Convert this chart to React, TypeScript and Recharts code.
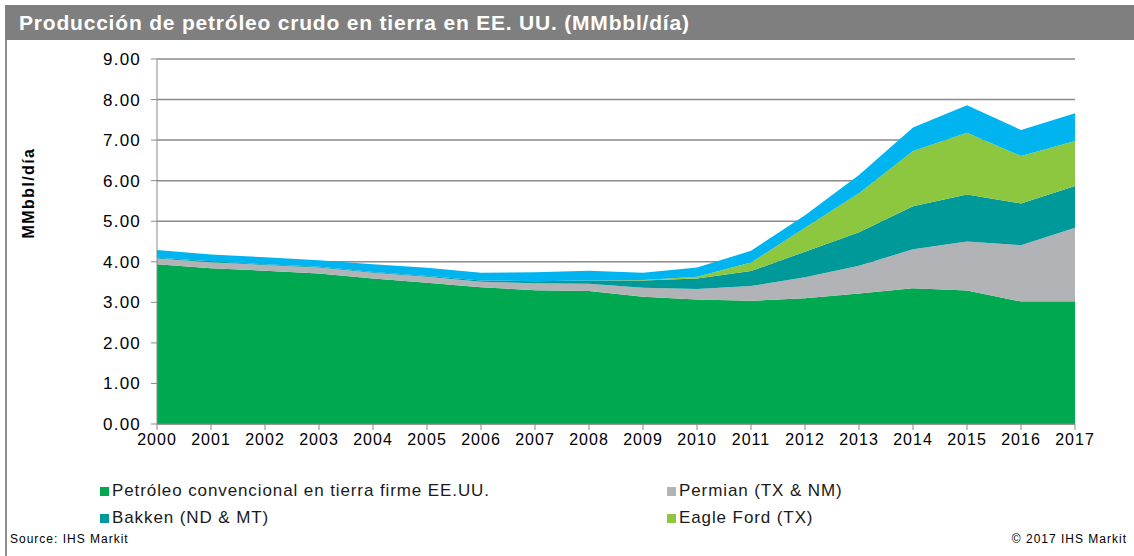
import { Area, AreaChart, CartesianGrid, XAxis, YAxis } from "recharts";

const YEARS = [
  2000, 2001, 2002, 2003, 2004, 2005, 2006, 2007, 2008, 2009, 2010, 2011, 2012,
  2013, 2014, 2015, 2016, 2017,
];
const CONVENTIONAL = [
  3.94, 3.84, 3.78, 3.71, 3.59, 3.48, 3.37, 3.3, 3.28, 3.14, 3.07, 3.04, 3.1,
  3.22, 3.35, 3.29, 3.02, 3.02,
];
const PERMIAN = [
  0.14, 0.15, 0.14, 0.15, 0.14, 0.15, 0.14, 0.17, 0.18, 0.22, 0.26, 0.36, 0.52,
  0.68, 0.96, 1.21, 1.39, 1.82,
];
const BAKKEN = [
  0.02, 0.02, 0.02, 0.02, 0.02, 0.02, 0.03, 0.05, 0.08, 0.18, 0.26, 0.37, 0.63,
  0.83, 1.06, 1.16, 1.03, 1.03,
];
const EAGLE_FORD = [
  0, 0, 0, 0, 0, 0, 0, 0, 0, 0.01, 0.04, 0.21, 0.59, 0.96, 1.36, 1.52, 1.17,
  1.11,
];
const OTHER = [
  0.19, 0.17, 0.17, 0.16, 0.19, 0.2, 0.19, 0.22, 0.24, 0.18, 0.23, 0.29, 0.31,
  0.45, 0.58, 0.68, 0.64, 0.68,
];
const Y_TICKS = [0, 1, 2, 3, 4, 5, 6, 7, 8, 9];

const SERIES = [
  { key: "conv", name: "Petróleo convencional en tierra firme EE.UU.", color: "#00a84f", values: CONVENTIONAL },
  { key: "permian", name: "Permian (TX & NM)", color: "#b1b3b6", values: PERMIAN },
  { key: "bakken", name: "Bakken (ND & MT)", color: "#009999", values: BAKKEN },
  { key: "eagle", name: "Eagle Ford (TX)", color: "#8dc63f", values: EAGLE_FORD },
  { key: "other", name: "Otros", color: "#00b5ef", values: OTHER },
];

const data = YEARS.map((year, i) => {
  const row: Record<string, number> = { year };
  SERIES.forEach((s) => {
    row[s.key] = s.values[i];
  });
  return row;
});

const FONT = '"Liberation Sans", Arial, sans-serif';
const AXIS = "#8a8a8a";

function LegendItem({ color, label, x, y }: { color: string; label: string; x: number; y: number }) {
  return (
    <div style={{ position: "absolute", left: x, top: y, display: "flex", alignItems: "center", whiteSpace: "nowrap" }}>
      <span style={{ width: 9, height: 9, background: color, marginRight: 3 }} />
      <span style={{ fontSize: 17, letterSpacing: 0.9, color: "#1a1a1a" }}>{label}</span>
    </div>
  );
}

export default function App() {
  return (
    <div
      style={{
        position: "absolute",
        left: 0,
        top: 0,
        width: 1134,
        height: 556,
        background: "#fff",
        fontFamily: FONT,
        overflow: "hidden",
      }}
    >
      <div style={{ position: "absolute", left: 5, top: 5, width: 2, height: 551, background: "#8f8f8f" }} />
      <div
        style={{
          position: "absolute",
          left: 5,
          top: 5,
          width: 1129,
          height: 35,
          background: "#7f7f7f",
          color: "#fff",
          fontWeight: "bold",
          fontSize: 21,
          letterSpacing: 0.8,
          lineHeight: "35px",
          paddingLeft: 14,
          boxSizing: "border-box",
        }}
      >
        Producción de petróleo crudo en tierra en EE. UU. (MMbbl/día)
      </div>

      <div
        style={{
          position: "absolute",
          left: 29,
          top: 193,
          transform: "translate(-50%, -50%) rotate(-90deg)",
          fontWeight: "bold",
          fontSize: 16,
          letterSpacing: 1.4,
          color: "#000",
          whiteSpace: "nowrap",
        }}
      >
        MMbbl/día
      </div>

      <div style={{ position: "absolute", left: 0, top: 0 }}>
        <AreaChart
          width={1134}
          height={470}
          data={data}
          margin={{ top: 59, right: 59, bottom: 0, left: 0 }}
        >
          <CartesianGrid vertical={false} stroke={AXIS} strokeWidth={1.5} />
          <XAxis
            dataKey="year"
            type="number"
            domain={[2000, 2017]}
            ticks={YEARS}
            interval={0}
            height={46}
            stroke={AXIS}
            tickSize={6}
            tickMargin={4}
            tick={{ fill: "#000", fontSize: 16, fontFamily: FONT, letterSpacing: 1 }}
          />
          <YAxis
            width={157}
            domain={[0, 9]}
            ticks={Y_TICKS}
            interval={0}
            stroke={AXIS}
            tickSize={6}
            tickMargin={10}
            tickFormatter={(v: number) => v.toFixed(2)}
            tick={{ fill: "#000", fontSize: 17, fontFamily: FONT, letterSpacing: 1.2 }}
          />
          {SERIES.map((s) => (
            <Area
              key={s.key}
              type="linear"
              dataKey={s.key}
              name={s.name}
              stackId="1"
              stroke="none"
              fill={s.color}
              fillOpacity={1}
              isAnimationActive={false}
            />
          ))}
        </AreaChart>
      </div>

      <LegendItem color={SERIES[0].color} label={SERIES[0].name} x={100} y={481} />
      <LegendItem color={SERIES[1].color} label={SERIES[1].name} x={667} y={481} />
      <LegendItem color={SERIES[2].color} label={SERIES[2].name} x={100} y={508} />
      <LegendItem color={SERIES[3].color} label={SERIES[3].name} x={667} y={508} />

      <div style={{ position: "absolute", left: 10, top: 532, fontSize: 12, letterSpacing: 1, color: "#000" }}>Source: IHS Markit</div>
      <div style={{ position: "absolute", right: 7, top: 532, fontSize: 12, letterSpacing: 1, color: "#000" }}>© 2017 IHS Markit</div>
    </div>
  );
}
